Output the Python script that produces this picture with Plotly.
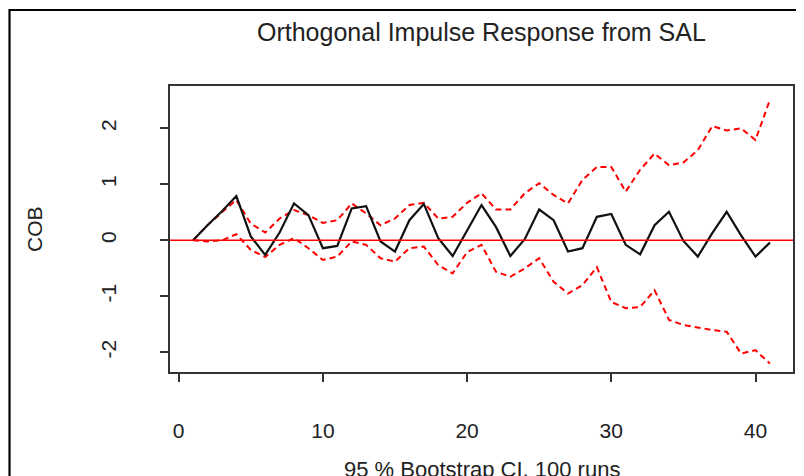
import plotly.graph_objects as go

# ---- data ----
periods = [1, 2, 3, 4, 5, 6, 7, 8, 9, 10, 11, 12, 13, 14, 15, 16, 17, 18, 19, 20, 21,
           22, 23, 24, 25, 26, 27, 28, 29, 30, 31, 32, 33, 34, 35, 36, 37, 38, 39, 40, 41]

irf_cob = [0.00, 0.27, 0.52, 0.79, 0.07, -0.26, 0.14, 0.66, 0.45, -0.14, -0.10,
           0.57, 0.61, -0.02, -0.20, 0.36, 0.65, 0.04, -0.28, 0.18, 0.63,
           0.24, -0.28, 0.02, 0.55, 0.36, -0.20, -0.14, 0.42, 0.47, -0.08,
           -0.25, 0.27, 0.51, -0.01, -0.29, 0.13, 0.51, 0.09, -0.29, -0.04]

upper_ci = [0.00, 0.27, 0.50, 0.72, 0.30, 0.14, 0.39, 0.54, 0.45, 0.31, 0.36,
            0.66, 0.48, 0.27, 0.39, 0.63, 0.67, 0.39, 0.42, 0.67, 0.84,
            0.55, 0.55, 0.84, 1.02, 0.81, 0.66, 1.08, 1.31, 1.31, 0.87,
            1.26, 1.55, 1.34, 1.39, 1.61, 2.04, 1.96, 2.00, 1.79, 2.51]

lower_ci = [0.00, -0.02, 0.00, 0.11, -0.17, -0.30, -0.08, 0.04, -0.14, -0.35, -0.29,
            -0.02, -0.08, -0.32, -0.38, -0.14, -0.11, -0.44, -0.59, -0.21, -0.08,
            -0.56, -0.65, -0.50, -0.32, -0.74, -0.95, -0.80, -0.48, -1.10, -1.21,
            -1.19, -0.89, -1.42, -1.51, -1.56, -1.60, -1.63, -2.02, -1.96, -2.20]

zero_line_value = 0

x_ticks = [0, 10, 20, 30, 40]
y_ticks = [-2, -1, 0, 1, 2]

title_text = "Orthogonal Impulse Response from SAL"
y_label = "COB"
footer_text = "95 % Bootstrap CI, 100 runs"

FONT = "Liberation Sans, Arial, sans-serif"

fig = go.Figure()

fig.add_trace(go.Scatter(x=periods, y=upper_ci, mode="lines",
                         line=dict(color="#FF0000", width=2, dash="6px,4px"),
                         showlegend=False, hoverinfo="skip"))
fig.add_trace(go.Scatter(x=periods, y=lower_ci, mode="lines",
                         line=dict(color="#FF0000", width=2, dash="6px,4px"),
                         showlegend=False, hoverinfo="skip"))
fig.add_trace(go.Scatter(x=periods, y=irf_cob, mode="lines",
                         line=dict(color="#111111", width=2.2),
                         showlegend=False))

fig.add_hline(y=zero_line_value, line=dict(color="#FF0000", width=1.5), layer="above")

# outer device frame (left/top edges visible in the reference)
fig.add_shape(type="rect", xref="paper", yref="paper",
              x0=-0.2576, x1=2.0, y0=-1.0, y1=1.2657,
              line=dict(color="black", width=2.2), fillcolor="rgba(0,0,0,0)")

fig.add_annotation(text=title_text, xref="paper", yref="paper",
                   x=0.5, y=1.19, xanchor="center", yanchor="middle",
                   showarrow=False, font=dict(family=FONT, size=25, color="#222222"))
fig.add_annotation(text=y_label, xref="paper", yref="paper",
                   x=-0.2183, y=0.5, xanchor="center", yanchor="middle", textangle=-90,
                   showarrow=False, font=dict(family=FONT, size=21, color="#222222"))
fig.add_annotation(text=footer_text, xref="paper", yref="paper",
                   x=0.5, y=-0.29, xanchor="center", yanchor="top",
                   showarrow=False, font=dict(family=FONT, size=22, color="#222222"))

fig.update_xaxes(range=[-0.6, 42.6], tickvals=x_ticks, ticktext=[str(v) for v in x_ticks],
                 showgrid=False, zeroline=False, showline=True, mirror=True,
                 linecolor="#333333", linewidth=1.5, ticks="outside", ticklen=8,
                 tickcolor="#333333", tickwidth=1.5, ticklabelstandoff=31,
                 tickfont=dict(family=FONT, size=21, color="#222222"))
fig.update_yaxes(range=[-2.35, 2.755], tickvals=y_ticks, ticktext=[str(v) for v in y_ticks],
                 showgrid=False, zeroline=False, showline=True, mirror=True,
                 linecolor="#333333", linewidth=1.5, ticks="outside", ticklen=8,
                 tickcolor="#333333", tickwidth=1.5, tickangle=-90, ticklabelstandoff=36,
                 tickfont=dict(family=FONT, size=21, color="#222222"))

# the page has an 8px body margin, so the margins are shifted to land the plot
# box where the reference has it
fig.update_layout(width=804, height=476,
                  margin=dict(l=162, r=19, t=78, b=112),
                  paper_bgcolor="white", plot_bgcolor="white",
                  showlegend=False)

fig.write_html("out.html")
